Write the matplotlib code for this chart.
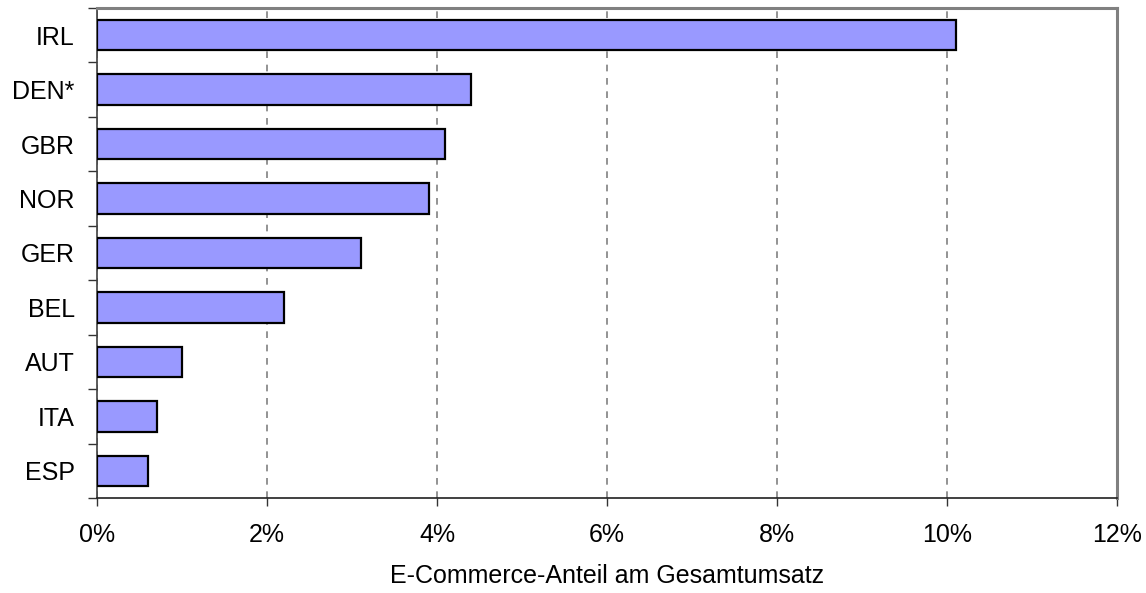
import numpy as np
import matplotlib
matplotlib.use("Agg")
import matplotlib.pyplot as plt
from matplotlib.ticker import FuncFormatter, FixedLocator

# data (share of e-commerce in total turnover, %)
countries = ["IRL", "DEN*", "GBR", "NOR", "GER", "BEL", "AUT", "ITA", "ESP"]
shares = [10.1, 4.4, 4.1, 3.9, 3.1, 2.2, 1.0, 0.7, 0.6]
x_ticks = [0, 2, 4, 6, 8, 10, 12]

plt.rcParams["font.family"] = ["Liberation Sans", "DejaVu Sans"]
plt.rcParams["font.size"] = 18

fig = plt.figure(figsize=(11.46, 5.93), dpi=100)
ax = fig.add_axes([97 / 1146, 1 - 498 / 593, 1020 / 1146, 490 / 593])

n = len(countries)
ypos = np.arange(n)[::-1]  # IRL on top
ax.barh(ypos, shares, height=0.56, color="#9999FF", edgecolor="black",
        linewidth=1.6, zorder=3)

ax.set_xlim(0, 12)
ax.set_ylim(-0.5, n - 0.5)

# dashed gridlines
ax.xaxis.set_major_locator(FixedLocator(x_ticks))
ax.xaxis.set_major_formatter(FuncFormatter(lambda v, _: f"{v:.0f}%"))
ax.grid(axis="x", linestyle=(0, (4, 4)), color="#808080", linewidth=1.2, zorder=0)

# y labels at centres, tick marks between categories
ax.set_yticks(ypos)
ax.set_yticklabels(countries)
ax.set_yticks(np.arange(-0.5, n, 1.0), minor=True)
ax.tick_params(axis="y", which="major", length=0, pad=16)
ax.tick_params(axis="y", which="minor", length=6.5, width=1, color="#333333")
ax.tick_params(axis="x", which="major", length=6, width=1, color="#333333", pad=12)

for side in ["top", "right"]:
    ax.spines[side].set_color("#808080")
    ax.spines[side].set_linewidth(2.2)
ax.spines["left"].set_color("#404040")
ax.spines["left"].set_linewidth(1.2)
ax.spines["bottom"].set_color("#202020")
ax.spines["bottom"].set_linewidth(1.2)

ax.set_xlabel("E-Commerce-Anteil am Gesamtumsatz", labelpad=12)

fig.savefig("out.png", dpi=100)
